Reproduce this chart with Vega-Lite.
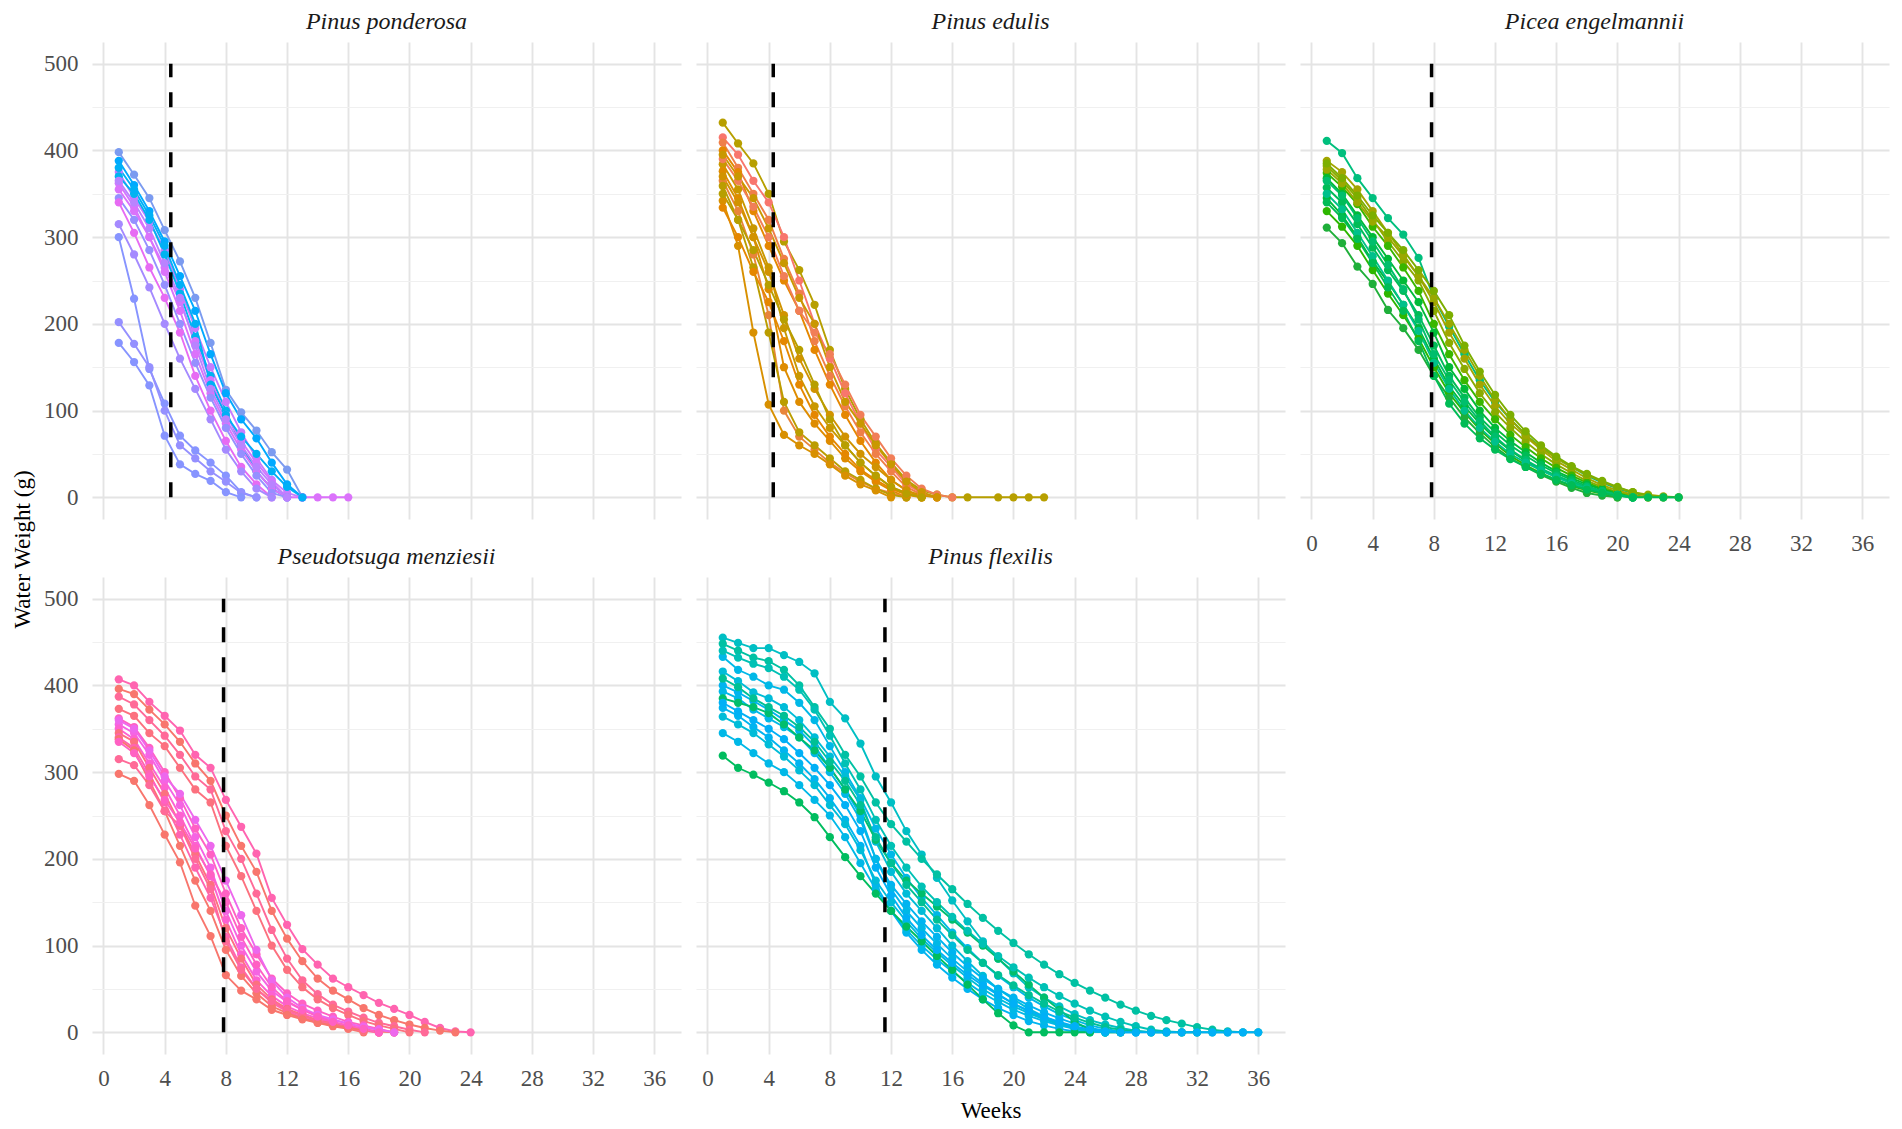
{
  "$schema": "https://vega.github.io/schema/vega-lite/v6.json",
  "background": "white",
  "padding": {"left": 11, "top": 10, "right": 5, "bottom": 5},
  "datasets": {
    "pp": [
      {"i":1,"w":1,"v":398},{"i":1,"w":2,"v":372},{"i":1,"w":3,"v":345},{"i":1,"w":4,"v":308},{"i":1,"w":5,"v":272},{"i":1,"w":6,"v":230},{"i":1,"w":7,"v":178},{"i":1,"w":8,"v":124},{"i":1,"w":9,"v":98},{"i":1,"w":10,"v":77},{"i":1,"w":11,"v":52},{"i":1,"w":12,"v":32},{"i":1,"w":13,"v":0},
      {"i":2,"w":1,"v":388},{"i":2,"w":2,"v":360},{"i":2,"w":3,"v":330},{"i":2,"w":4,"v":295},{"i":2,"w":5,"v":255},{"i":2,"w":6,"v":215},{"i":2,"w":7,"v":165},{"i":2,"w":8,"v":120},{"i":2,"w":9,"v":90},{"i":2,"w":10,"v":68},{"i":2,"w":11,"v":40},{"i":2,"w":12,"v":15},{"i":2,"w":13,"v":0},
      {"i":3,"w":1,"v":375},{"i":3,"w":2,"v":345},{"i":3,"w":3,"v":318},{"i":3,"w":4,"v":285},{"i":3,"w":5,"v":240},{"i":3,"w":6,"v":195},{"i":3,"w":7,"v":150},{"i":3,"w":8,"v":110},{"i":3,"w":9,"v":75},{"i":3,"w":10,"v":45},{"i":3,"w":11,"v":20},{"i":3,"w":12,"v":5},{"i":3,"w":13,"v":0},
      {"i":4,"w":1,"v":370},{"i":4,"w":2,"v":350},{"i":4,"w":3,"v":320},{"i":4,"w":4,"v":280},{"i":4,"w":5,"v":235},{"i":4,"w":6,"v":185},{"i":4,"w":7,"v":140},{"i":4,"w":8,"v":100},{"i":4,"w":9,"v":60},{"i":4,"w":10,"v":30},{"i":4,"w":11,"v":10},{"i":4,"w":12,"v":0},
      {"i":5,"w":1,"v":362},{"i":5,"w":2,"v":335},{"i":5,"w":3,"v":300},{"i":5,"w":4,"v":265},{"i":5,"w":5,"v":225},{"i":5,"w":6,"v":180},{"i":5,"w":7,"v":135},{"i":5,"w":8,"v":95},{"i":5,"w":9,"v":65},{"i":5,"w":10,"v":40},{"i":5,"w":11,"v":18},{"i":5,"w":12,"v":0},
      {"i":6,"w":1,"v":355},{"i":6,"w":2,"v":330},{"i":6,"w":3,"v":300},{"i":6,"w":4,"v":260},{"i":6,"w":5,"v":215},{"i":6,"w":6,"v":165},{"i":6,"w":7,"v":120},{"i":6,"w":8,"v":85},{"i":6,"w":9,"v":55},{"i":6,"w":10,"v":30},{"i":6,"w":11,"v":10},{"i":6,"w":12,"v":0},{"i":6,"w":13,"v":0},{"i":6,"w":14,"v":0},{"i":6,"w":15,"v":0},{"i":6,"w":16,"v":0},
      {"i":7,"w":1,"v":345},{"i":7,"w":2,"v":320},{"i":7,"w":3,"v":285},{"i":7,"w":4,"v":245},{"i":7,"w":5,"v":200},{"i":7,"w":6,"v":155},{"i":7,"w":7,"v":115},{"i":7,"w":8,"v":80},{"i":7,"w":9,"v":50},{"i":7,"w":10,"v":25},{"i":7,"w":11,"v":5},{"i":7,"w":12,"v":0},
      {"i":8,"w":1,"v":340},{"i":8,"w":2,"v":305},{"i":8,"w":3,"v":265},{"i":8,"w":4,"v":230},{"i":8,"w":5,"v":190},{"i":8,"w":6,"v":140},{"i":8,"w":7,"v":100},{"i":8,"w":8,"v":65},{"i":8,"w":9,"v":35},{"i":8,"w":10,"v":15},{"i":8,"w":11,"v":0},
      {"i":9,"w":1,"v":315},{"i":9,"w":2,"v":280},{"i":9,"w":3,"v":242},{"i":9,"w":4,"v":200},{"i":9,"w":5,"v":160},{"i":9,"w":6,"v":125},{"i":9,"w":7,"v":90},{"i":9,"w":8,"v":55},{"i":9,"w":9,"v":30},{"i":9,"w":10,"v":10},{"i":9,"w":11,"v":0},
      {"i":10,"w":1,"v":300},{"i":10,"w":2,"v":229},{"i":10,"w":3,"v":148},{"i":10,"w":4,"v":108},{"i":10,"w":5,"v":71},{"i":10,"w":6,"v":54},{"i":10,"w":7,"v":40},{"i":10,"w":8,"v":25},{"i":10,"w":9,"v":6},{"i":10,"w":10,"v":0},
      {"i":11,"w":1,"v":202},{"i":11,"w":2,"v":177},{"i":11,"w":3,"v":150},{"i":11,"w":4,"v":100},{"i":11,"w":5,"v":60},{"i":11,"w":6,"v":45},{"i":11,"w":7,"v":30},{"i":11,"w":8,"v":18},{"i":11,"w":9,"v":5},{"i":11,"w":10,"v":0},
      {"i":12,"w":1,"v":178},{"i":12,"w":2,"v":156},{"i":12,"w":3,"v":129},{"i":12,"w":4,"v":71},{"i":12,"w":5,"v":38},{"i":12,"w":6,"v":27},{"i":12,"w":7,"v":19},{"i":12,"w":8,"v":6},{"i":12,"w":9,"v":0},
      {"i":13,"w":1,"v":380},{"i":13,"w":2,"v":355},{"i":13,"w":3,"v":325},{"i":13,"w":4,"v":290},{"i":13,"w":5,"v":245},{"i":13,"w":6,"v":200},{"i":13,"w":7,"v":130},{"i":13,"w":8,"v":95},{"i":13,"w":9,"v":70},{"i":13,"w":10,"v":50},{"i":13,"w":11,"v":30},{"i":13,"w":12,"v":12},{"i":13,"w":13,"v":0},
      {"i":14,"w":1,"v":365},{"i":14,"w":2,"v":340},{"i":14,"w":3,"v":310},{"i":14,"w":4,"v":270},{"i":14,"w":5,"v":230},{"i":14,"w":6,"v":175},{"i":14,"w":7,"v":125},{"i":14,"w":8,"v":90},{"i":14,"w":9,"v":60},{"i":14,"w":10,"v":35},{"i":14,"w":11,"v":15},{"i":14,"w":12,"v":0}
    ],
    "pe": [
      {"i":1,"w":1,"v":432},{"i":1,"w":2,"v":408},{"i":1,"w":3,"v":385},{"i":1,"w":4,"v":350},{"i":1,"w":5,"v":295},{"i":1,"w":6,"v":262},{"i":1,"w":7,"v":222},{"i":1,"w":8,"v":170},{"i":1,"w":9,"v":125},{"i":1,"w":10,"v":90},{"i":1,"w":11,"v":62},{"i":1,"w":12,"v":40},{"i":1,"w":13,"v":20},{"i":1,"w":14,"v":8},{"i":1,"w":15,"v":3},{"i":1,"w":16,"v":0},{"i":1,"w":17,"v":0},{"i":1,"w":19,"v":0},{"i":1,"w":20,"v":0},{"i":1,"w":21,"v":0},{"i":1,"w":22,"v":0},
      {"i":2,"w":1,"v":415},{"i":2,"w":2,"v":395},{"i":2,"w":3,"v":365},{"i":2,"w":4,"v":340},{"i":2,"w":5,"v":300},{"i":2,"w":6,"v":250},{"i":2,"w":7,"v":200},{"i":2,"w":8,"v":160},{"i":2,"w":9,"v":120},{"i":2,"w":10,"v":85},{"i":2,"w":11,"v":55},{"i":2,"w":12,"v":35},{"i":2,"w":13,"v":15},{"i":2,"w":14,"v":5},{"i":2,"w":15,"v":0},
      {"i":3,"w":1,"v":409},{"i":3,"w":2,"v":380},{"i":3,"w":3,"v":350},{"i":3,"w":4,"v":320},{"i":3,"w":5,"v":275},{"i":3,"w":6,"v":235},{"i":3,"w":7,"v":180},{"i":3,"w":8,"v":140},{"i":3,"w":9,"v":105},{"i":3,"w":10,"v":75},{"i":3,"w":11,"v":50},{"i":3,"w":12,"v":30},{"i":3,"w":13,"v":12},{"i":3,"w":14,"v":3},{"i":3,"w":15,"v":0},
      {"i":4,"w":1,"v":400},{"i":4,"w":2,"v":375},{"i":4,"w":3,"v":330},{"i":4,"w":4,"v":290},{"i":4,"w":5,"v":250},{"i":4,"w":6,"v":215},{"i":4,"w":7,"v":170},{"i":4,"w":8,"v":130},{"i":4,"w":9,"v":95},{"i":4,"w":10,"v":65},{"i":4,"w":11,"v":40},{"i":4,"w":12,"v":20},{"i":4,"w":13,"v":8},{"i":4,"w":14,"v":0},
      {"i":5,"w":1,"v":384},{"i":5,"w":2,"v":355},{"i":5,"w":3,"v":310},{"i":5,"w":4,"v":265},{"i":5,"w":5,"v":195},{"i":5,"w":6,"v":140},{"i":5,"w":7,"v":105},{"i":5,"w":8,"v":80},{"i":5,"w":9,"v":60},{"i":5,"w":10,"v":40},{"i":5,"w":11,"v":25},{"i":5,"w":12,"v":12},{"i":5,"w":13,"v":5},{"i":5,"w":14,"v":0},
      {"i":6,"w":1,"v":376},{"i":6,"w":2,"v":345},{"i":6,"w":3,"v":300},{"i":6,"w":4,"v":240},{"i":6,"w":5,"v":150},{"i":6,"w":6,"v":110},{"i":6,"w":7,"v":85},{"i":6,"w":8,"v":65},{"i":6,"w":9,"v":45},{"i":6,"w":10,"v":30},{"i":6,"w":11,"v":18},{"i":6,"w":12,"v":8},{"i":6,"w":13,"v":0},
      {"i":7,"w":1,"v":365},{"i":7,"w":2,"v":330},{"i":7,"w":3,"v":280},{"i":7,"w":4,"v":210},{"i":7,"w":5,"v":100},{"i":7,"w":6,"v":70},{"i":7,"w":7,"v":55},{"i":7,"w":8,"v":40},{"i":7,"w":9,"v":28},{"i":7,"w":10,"v":18},{"i":7,"w":11,"v":10},{"i":7,"w":12,"v":5},{"i":7,"w":13,"v":0},
      {"i":8,"w":1,"v":359},{"i":8,"w":2,"v":320},{"i":8,"w":3,"v":265},{"i":8,"w":4,"v":190},{"i":8,"w":5,"v":110},{"i":8,"w":6,"v":75},{"i":8,"w":7,"v":60},{"i":8,"w":8,"v":45},{"i":8,"w":9,"v":30},{"i":8,"w":10,"v":20},{"i":8,"w":11,"v":10},{"i":8,"w":12,"v":3},{"i":8,"w":13,"v":0},
      {"i":9,"w":1,"v":342},{"i":9,"w":2,"v":290},{"i":9,"w":3,"v":190},{"i":9,"w":4,"v":107},{"i":9,"w":5,"v":72},{"i":9,"w":6,"v":60},{"i":9,"w":7,"v":50},{"i":9,"w":8,"v":38},{"i":9,"w":9,"v":25},{"i":9,"w":10,"v":15},{"i":9,"w":11,"v":8},{"i":9,"w":12,"v":0},
      {"i":10,"w":1,"v":334},{"i":10,"w":2,"v":300},{"i":10,"w":3,"v":260},{"i":10,"w":4,"v":225},{"i":10,"w":5,"v":180},{"i":10,"w":6,"v":130},{"i":10,"w":7,"v":95},{"i":10,"w":8,"v":70},{"i":10,"w":9,"v":50},{"i":10,"w":10,"v":32},{"i":10,"w":11,"v":20},{"i":10,"w":12,"v":10},{"i":10,"w":13,"v":3},{"i":10,"w":14,"v":0},
      {"i":11,"w":1,"v":390},{"i":11,"w":2,"v":365},{"i":11,"w":3,"v":335},{"i":11,"w":4,"v":300},{"i":11,"w":5,"v":255},{"i":11,"w":6,"v":215},{"i":11,"w":7,"v":190},{"i":11,"w":8,"v":165},{"i":11,"w":9,"v":130},{"i":11,"w":10,"v":95},{"i":11,"w":11,"v":70},{"i":11,"w":12,"v":45},{"i":11,"w":13,"v":25},{"i":11,"w":14,"v":10},{"i":11,"w":15,"v":3},{"i":11,"w":16,"v":0},
      {"i":12,"w":1,"v":395},{"i":12,"w":2,"v":370},{"i":12,"w":3,"v":345},{"i":12,"w":4,"v":310},{"i":12,"w":5,"v":270},{"i":12,"w":6,"v":230},{"i":12,"w":7,"v":200},{"i":12,"w":8,"v":150},{"i":12,"w":9,"v":110},{"i":12,"w":10,"v":85},{"i":12,"w":11,"v":60},{"i":12,"w":12,"v":38},{"i":12,"w":13,"v":18},{"i":12,"w":14,"v":6},{"i":12,"w":15,"v":0},
      {"i":13,"w":1,"v":370},{"i":13,"w":2,"v":340},{"i":13,"w":3,"v":300},{"i":13,"w":4,"v":260},{"i":13,"w":5,"v":210},{"i":13,"w":6,"v":160},{"i":13,"w":7,"v":125},{"i":13,"w":8,"v":95},{"i":13,"w":9,"v":70},{"i":13,"w":10,"v":50},{"i":13,"w":11,"v":35},{"i":13,"w":12,"v":20},{"i":13,"w":13,"v":8},{"i":13,"w":14,"v":2},{"i":13,"w":15,"v":0},
      {"i":14,"w":1,"v":350},{"i":14,"w":2,"v":320},{"i":14,"w":3,"v":285},{"i":14,"w":4,"v":245},{"i":14,"w":5,"v":205},{"i":14,"w":6,"v":170},{"i":14,"w":7,"v":130},{"i":14,"w":8,"v":90},{"i":14,"w":9,"v":60},{"i":14,"w":10,"v":40},{"i":14,"w":11,"v":25},{"i":14,"w":12,"v":12},{"i":14,"w":13,"v":4},{"i":14,"w":14,"v":0}
    ],
    "pi": [
      {"i":1,"w":1,"v":411},{"i":1,"w":2,"v":397},{"i":1,"w":3,"v":368},{"i":1,"w":4,"v":345},{"i":1,"w":5,"v":322},{"i":1,"w":6,"v":303},{"i":1,"w":7,"v":276},{"i":1,"w":8,"v":230},{"i":1,"w":9,"v":197},{"i":1,"w":10,"v":165},{"i":1,"w":11,"v":135},{"i":1,"w":12,"v":110},{"i":1,"w":13,"v":90},{"i":1,"w":14,"v":72},{"i":1,"w":15,"v":58},{"i":1,"w":16,"v":45},{"i":1,"w":17,"v":35},{"i":1,"w":18,"v":25},{"i":1,"w":19,"v":17},{"i":1,"w":20,"v":10},{"i":1,"w":21,"v":5},{"i":1,"w":22,"v":2},{"i":1,"w":23,"v":0},{"i":1,"w":24,"v":0},
      {"i":2,"w":1,"v":388},{"i":2,"w":2,"v":375},{"i":2,"w":3,"v":355},{"i":2,"w":4,"v":330},{"i":2,"w":5,"v":305},{"i":2,"w":6,"v":280},{"i":2,"w":7,"v":255},{"i":2,"w":8,"v":225},{"i":2,"w":9,"v":190},{"i":2,"w":10,"v":160},{"i":2,"w":11,"v":130},{"i":2,"w":12,"v":105},{"i":2,"w":13,"v":85},{"i":2,"w":14,"v":70},{"i":2,"w":15,"v":55},{"i":2,"w":16,"v":42},{"i":2,"w":17,"v":32},{"i":2,"w":18,"v":22},{"i":2,"w":19,"v":14},{"i":2,"w":20,"v":8},{"i":2,"w":21,"v":3},{"i":2,"w":22,"v":0},
      {"i":3,"w":1,"v":382},{"i":3,"w":2,"v":365},{"i":3,"w":3,"v":345},{"i":3,"w":4,"v":320},{"i":3,"w":5,"v":295},{"i":3,"w":6,"v":272},{"i":3,"w":7,"v":250},{"i":3,"w":8,"v":215},{"i":3,"w":9,"v":178},{"i":3,"w":10,"v":148},{"i":3,"w":11,"v":120},{"i":3,"w":12,"v":98},{"i":3,"w":13,"v":80},{"i":3,"w":14,"v":64},{"i":3,"w":15,"v":50},{"i":3,"w":16,"v":38},{"i":3,"w":17,"v":28},{"i":3,"w":18,"v":19},{"i":3,"w":19,"v":12},{"i":3,"w":20,"v":6},{"i":3,"w":21,"v":2},{"i":3,"w":22,"v":0},
      {"i":4,"w":1,"v":374},{"i":4,"w":2,"v":358},{"i":4,"w":3,"v":338},{"i":4,"w":4,"v":312},{"i":4,"w":5,"v":290},{"i":4,"w":6,"v":265},{"i":4,"w":7,"v":238},{"i":4,"w":8,"v":200},{"i":4,"w":9,"v":165},{"i":4,"w":10,"v":135},{"i":4,"w":11,"v":110},{"i":4,"w":12,"v":90},{"i":4,"w":13,"v":72},{"i":4,"w":14,"v":58},{"i":4,"w":15,"v":45},{"i":4,"w":16,"v":34},{"i":4,"w":17,"v":25},{"i":4,"w":18,"v":17},{"i":4,"w":19,"v":10},{"i":4,"w":20,"v":5},{"i":4,"w":21,"v":0},
      {"i":5,"w":1,"v":368},{"i":5,"w":2,"v":350},{"i":5,"w":3,"v":325},{"i":5,"w":4,"v":300},{"i":5,"w":5,"v":275},{"i":5,"w":6,"v":250},{"i":5,"w":7,"v":225},{"i":5,"w":8,"v":190},{"i":5,"w":9,"v":150},{"i":5,"w":10,"v":125},{"i":5,"w":11,"v":100},{"i":5,"w":12,"v":80},{"i":5,"w":13,"v":65},{"i":5,"w":14,"v":52},{"i":5,"w":15,"v":40},{"i":5,"w":16,"v":30},{"i":5,"w":17,"v":22},{"i":5,"w":18,"v":15},{"i":5,"w":19,"v":9},{"i":5,"w":20,"v":4},{"i":5,"w":21,"v":0},
      {"i":6,"w":1,"v":357},{"i":6,"w":2,"v":340},{"i":6,"w":3,"v":315},{"i":6,"w":4,"v":288},{"i":6,"w":5,"v":262},{"i":6,"w":6,"v":238},{"i":6,"w":7,"v":210},{"i":6,"w":8,"v":175},{"i":6,"w":9,"v":140},{"i":6,"w":10,"v":115},{"i":6,"w":11,"v":92},{"i":6,"w":12,"v":75},{"i":6,"w":13,"v":60},{"i":6,"w":14,"v":48},{"i":6,"w":15,"v":37},{"i":6,"w":16,"v":28},{"i":6,"w":17,"v":20},{"i":6,"w":18,"v":13},{"i":6,"w":19,"v":7},{"i":6,"w":20,"v":3},{"i":6,"w":21,"v":0},
      {"i":7,"w":1,"v":345},{"i":7,"w":2,"v":325},{"i":7,"w":3,"v":300},{"i":7,"w":4,"v":272},{"i":7,"w":5,"v":248},{"i":7,"w":6,"v":222},{"i":7,"w":7,"v":195},{"i":7,"w":8,"v":160},{"i":7,"w":9,"v":128},{"i":7,"w":10,"v":105},{"i":7,"w":11,"v":85},{"i":7,"w":12,"v":68},{"i":7,"w":13,"v":54},{"i":7,"w":14,"v":42},{"i":7,"w":15,"v":32},{"i":7,"w":16,"v":24},{"i":7,"w":17,"v":17},{"i":7,"w":18,"v":11},{"i":7,"w":19,"v":6},{"i":7,"w":20,"v":2},{"i":7,"w":21,"v":0},
      {"i":8,"w":1,"v":330},{"i":8,"w":2,"v":312},{"i":8,"w":3,"v":290},{"i":8,"w":4,"v":262},{"i":8,"w":5,"v":235},{"i":8,"w":6,"v":210},{"i":8,"w":7,"v":183},{"i":8,"w":8,"v":150},{"i":8,"w":9,"v":120},{"i":8,"w":10,"v":98},{"i":8,"w":11,"v":78},{"i":8,"w":12,"v":62},{"i":8,"w":13,"v":48},{"i":8,"w":14,"v":37},{"i":8,"w":15,"v":28},{"i":8,"w":16,"v":20},{"i":8,"w":17,"v":13},{"i":8,"w":18,"v":8},{"i":8,"w":19,"v":4},{"i":8,"w":20,"v":0},
      {"i":9,"w":1,"v":311},{"i":9,"w":2,"v":293},{"i":9,"w":3,"v":266},{"i":9,"w":4,"v":246},{"i":9,"w":5,"v":216},{"i":9,"w":6,"v":195},{"i":9,"w":7,"v":170},{"i":9,"w":8,"v":140},{"i":9,"w":9,"v":115},{"i":9,"w":10,"v":92},{"i":9,"w":11,"v":74},{"i":9,"w":12,"v":58},{"i":9,"w":13,"v":45},{"i":9,"w":14,"v":35},{"i":9,"w":15,"v":26},{"i":9,"w":16,"v":18},{"i":9,"w":17,"v":11},{"i":9,"w":18,"v":5},{"i":9,"w":19,"v":2},{"i":9,"w":20,"v":0},
      {"i":10,"w":1,"v":378},{"i":10,"w":2,"v":362},{"i":10,"w":3,"v":340},{"i":10,"w":4,"v":318},{"i":10,"w":5,"v":300},{"i":10,"w":6,"v":278},{"i":10,"w":7,"v":255},{"i":10,"w":8,"v":230},{"i":10,"w":9,"v":200},{"i":10,"w":10,"v":170},{"i":10,"w":11,"v":140},{"i":10,"w":12,"v":112},{"i":10,"w":13,"v":90},{"i":10,"w":14,"v":72},{"i":10,"w":15,"v":57},{"i":10,"w":16,"v":45},{"i":10,"w":17,"v":35},{"i":10,"w":18,"v":26},{"i":10,"w":19,"v":18},{"i":10,"w":20,"v":11},{"i":10,"w":21,"v":6},{"i":10,"w":22,"v":3},{"i":10,"w":23,"v":1},{"i":10,"w":24,"v":0},
      {"i":11,"w":1,"v":385},{"i":11,"w":2,"v":368},{"i":11,"w":3,"v":348},{"i":11,"w":4,"v":325},{"i":11,"w":5,"v":305},{"i":11,"w":6,"v":285},{"i":11,"w":7,"v":262},{"i":11,"w":8,"v":238},{"i":11,"w":9,"v":210},{"i":11,"w":10,"v":175},{"i":11,"w":11,"v":145},{"i":11,"w":12,"v":118},{"i":11,"w":13,"v":95},{"i":11,"w":14,"v":76},{"i":11,"w":15,"v":60},{"i":11,"w":16,"v":47},{"i":11,"w":17,"v":36},{"i":11,"w":18,"v":27},{"i":11,"w":19,"v":19},{"i":11,"w":20,"v":12},{"i":11,"w":21,"v":6},{"i":11,"w":22,"v":2},{"i":11,"w":23,"v":0},
      {"i":12,"w":1,"v":365},{"i":12,"w":2,"v":348},{"i":12,"w":3,"v":322},{"i":12,"w":4,"v":295},{"i":12,"w":5,"v":268},{"i":12,"w":6,"v":240},{"i":12,"w":7,"v":205},{"i":12,"w":8,"v":165},{"i":12,"w":9,"v":135},{"i":12,"w":10,"v":110},{"i":12,"w":11,"v":88},{"i":12,"w":12,"v":70},{"i":12,"w":13,"v":55},{"i":12,"w":14,"v":43},{"i":12,"w":15,"v":33},{"i":12,"w":16,"v":25},{"i":12,"w":17,"v":18},{"i":12,"w":18,"v":12},{"i":12,"w":19,"v":7},{"i":12,"w":20,"v":3},{"i":12,"w":21,"v":0},
      {"i":13,"w":1,"v":350},{"i":13,"w":2,"v":332},{"i":13,"w":3,"v":305},{"i":13,"w":4,"v":278},{"i":13,"w":5,"v":250},{"i":13,"w":6,"v":222},{"i":13,"w":7,"v":192},{"i":13,"w":8,"v":155},{"i":13,"w":9,"v":125},{"i":13,"w":10,"v":100},{"i":13,"w":11,"v":80},{"i":13,"w":12,"v":64},{"i":13,"w":13,"v":50},{"i":13,"w":14,"v":40},{"i":13,"w":15,"v":31},{"i":13,"w":16,"v":23},{"i":13,"w":17,"v":16},{"i":13,"w":18,"v":10},{"i":13,"w":19,"v":5},{"i":13,"w":20,"v":2},{"i":13,"w":21,"v":0},
      {"i":14,"w":1,"v":340},{"i":14,"w":2,"v":322},{"i":14,"w":3,"v":298},{"i":14,"w":4,"v":270},{"i":14,"w":5,"v":242},{"i":14,"w":6,"v":215},{"i":14,"w":7,"v":180},{"i":14,"w":8,"v":140},{"i":14,"w":9,"v":108},{"i":14,"w":10,"v":85},{"i":14,"w":11,"v":68},{"i":14,"w":12,"v":55},{"i":14,"w":13,"v":44},{"i":14,"w":14,"v":35},{"i":14,"w":15,"v":27},{"i":14,"w":16,"v":20},{"i":14,"w":17,"v":14},{"i":14,"w":18,"v":9},{"i":14,"w":19,"v":5},{"i":14,"w":20,"v":2},{"i":14,"w":21,"v":0},{"i":14,"w":22,"v":0},{"i":14,"w":23,"v":0},{"i":14,"w":24,"v":0}
    ],
    "pm": [
      {"i":1,"w":1,"v":407},{"i":1,"w":2,"v":400},{"i":1,"w":3,"v":381},{"i":1,"w":4,"v":365},{"i":1,"w":5,"v":348},{"i":1,"w":6,"v":320},{"i":1,"w":7,"v":305},{"i":1,"w":8,"v":268},{"i":1,"w":9,"v":237},{"i":1,"w":10,"v":206},{"i":1,"w":11,"v":155},{"i":1,"w":12,"v":124},{"i":1,"w":13,"v":96},{"i":1,"w":14,"v":78},{"i":1,"w":15,"v":62},{"i":1,"w":16,"v":52},{"i":1,"w":17,"v":43},{"i":1,"w":18,"v":34},{"i":1,"w":19,"v":27},{"i":1,"w":20,"v":20},{"i":1,"w":21,"v":12},{"i":1,"w":22,"v":5},{"i":1,"w":23,"v":1},{"i":1,"w":24,"v":0},
      {"i":2,"w":1,"v":396},{"i":2,"w":2,"v":390},{"i":2,"w":3,"v":372},{"i":2,"w":4,"v":355},{"i":2,"w":5,"v":335},{"i":2,"w":6,"v":310},{"i":2,"w":7,"v":290},{"i":2,"w":8,"v":250},{"i":2,"w":9,"v":215},{"i":2,"w":10,"v":185},{"i":2,"w":11,"v":140},{"i":2,"w":12,"v":108},{"i":2,"w":13,"v":82},{"i":2,"w":14,"v":62},{"i":2,"w":15,"v":48},{"i":2,"w":16,"v":38},{"i":2,"w":17,"v":28},{"i":2,"w":18,"v":20},{"i":2,"w":19,"v":14},{"i":2,"w":20,"v":9},{"i":2,"w":21,"v":5},{"i":2,"w":22,"v":2},{"i":2,"w":23,"v":0},
      {"i":3,"w":1,"v":387},{"i":3,"w":2,"v":378},{"i":3,"w":3,"v":360},{"i":3,"w":4,"v":342},{"i":3,"w":5,"v":320},{"i":3,"w":6,"v":295},{"i":3,"w":7,"v":280},{"i":3,"w":8,"v":232},{"i":3,"w":9,"v":200},{"i":3,"w":10,"v":160},{"i":3,"w":11,"v":118},{"i":3,"w":12,"v":85},{"i":3,"w":13,"v":60},{"i":3,"w":14,"v":44},{"i":3,"w":15,"v":32},{"i":3,"w":16,"v":24},{"i":3,"w":17,"v":17},{"i":3,"w":18,"v":11},{"i":3,"w":19,"v":7},{"i":3,"w":20,"v":3},{"i":3,"w":21,"v":0},
      {"i":4,"w":1,"v":373},{"i":4,"w":2,"v":365},{"i":4,"w":3,"v":345},{"i":4,"w":4,"v":330},{"i":4,"w":5,"v":305},{"i":4,"w":6,"v":280},{"i":4,"w":7,"v":265},{"i":4,"w":8,"v":215},{"i":4,"w":9,"v":180},{"i":4,"w":10,"v":140},{"i":4,"w":11,"v":100},{"i":4,"w":12,"v":72},{"i":4,"w":13,"v":52},{"i":4,"w":14,"v":38},{"i":4,"w":15,"v":28},{"i":4,"w":16,"v":20},{"i":4,"w":17,"v":13},{"i":4,"w":18,"v":8},{"i":4,"w":19,"v":4},{"i":4,"w":20,"v":0},
      {"i":5,"w":1,"v":362},{"i":5,"w":2,"v":352},{"i":5,"w":3,"v":328},{"i":5,"w":4,"v":300},{"i":5,"w":5,"v":270},{"i":5,"w":6,"v":235},{"i":5,"w":7,"v":205},{"i":5,"w":8,"v":160},{"i":5,"w":9,"v":120},{"i":5,"w":10,"v":90},{"i":5,"w":11,"v":62},{"i":5,"w":12,"v":45},{"i":5,"w":13,"v":33},{"i":5,"w":14,"v":25},{"i":5,"w":15,"v":18},{"i":5,"w":16,"v":12},{"i":5,"w":17,"v":8},{"i":5,"w":18,"v":4},{"i":5,"w":19,"v":0},
      {"i":6,"w":1,"v":355},{"i":6,"w":2,"v":345},{"i":6,"w":3,"v":320},{"i":6,"w":4,"v":290},{"i":6,"w":5,"v":262},{"i":6,"w":6,"v":225},{"i":6,"w":7,"v":190},{"i":6,"w":8,"v":140},{"i":6,"w":9,"v":100},{"i":6,"w":10,"v":70},{"i":6,"w":11,"v":48},{"i":6,"w":12,"v":35},{"i":6,"w":13,"v":26},{"i":6,"w":14,"v":19},{"i":6,"w":15,"v":14},{"i":6,"w":16,"v":10},{"i":6,"w":17,"v":6},{"i":6,"w":18,"v":3},{"i":6,"w":19,"v":0},
      {"i":7,"w":1,"v":350},{"i":7,"w":2,"v":338},{"i":7,"w":3,"v":310},{"i":7,"w":4,"v":282},{"i":7,"w":5,"v":250},{"i":7,"w":6,"v":215},{"i":7,"w":7,"v":180},{"i":7,"w":8,"v":130},{"i":7,"w":9,"v":90},{"i":7,"w":10,"v":60},{"i":7,"w":11,"v":42},{"i":7,"w":12,"v":30},{"i":7,"w":13,"v":22},{"i":7,"w":14,"v":16},{"i":7,"w":15,"v":11},{"i":7,"w":16,"v":7},{"i":7,"w":17,"v":4},{"i":7,"w":18,"v":0},
      {"i":8,"w":1,"v":345},{"i":8,"w":2,"v":335},{"i":8,"w":3,"v":305},{"i":8,"w":4,"v":275},{"i":8,"w":5,"v":240},{"i":8,"w":6,"v":205},{"i":8,"w":7,"v":170},{"i":8,"w":8,"v":120},{"i":8,"w":9,"v":85},{"i":8,"w":10,"v":55},{"i":8,"w":11,"v":38},{"i":8,"w":12,"v":27},{"i":8,"w":13,"v":20},{"i":8,"w":14,"v":14},{"i":8,"w":15,"v":10},{"i":8,"w":16,"v":6},{"i":8,"w":17,"v":3},{"i":8,"w":18,"v":0},
      {"i":9,"w":1,"v":340},{"i":9,"w":2,"v":328},{"i":9,"w":3,"v":298},{"i":9,"w":4,"v":265},{"i":9,"w":5,"v":228},{"i":9,"w":6,"v":190},{"i":9,"w":7,"v":155},{"i":9,"w":8,"v":110},{"i":9,"w":9,"v":75},{"i":9,"w":10,"v":50},{"i":9,"w":11,"v":34},{"i":9,"w":12,"v":24},{"i":9,"w":13,"v":17},{"i":9,"w":14,"v":12},{"i":9,"w":15,"v":8},{"i":9,"w":16,"v":5},{"i":9,"w":17,"v":2},{"i":9,"w":18,"v":0},
      {"i":10,"w":1,"v":338},{"i":10,"w":2,"v":325},{"i":10,"w":3,"v":290},{"i":10,"w":4,"v":255},{"i":10,"w":5,"v":215},{"i":10,"w":6,"v":175},{"i":10,"w":7,"v":140},{"i":10,"w":8,"v":95},{"i":10,"w":9,"v":65},{"i":10,"w":10,"v":45},{"i":10,"w":11,"v":30},{"i":10,"w":12,"v":22},{"i":10,"w":13,"v":16},{"i":10,"w":14,"v":11},{"i":10,"w":15,"v":7},{"i":10,"w":16,"v":4},{"i":10,"w":17,"v":0},
      {"i":11,"w":1,"v":315},{"i":11,"w":2,"v":308},{"i":11,"w":3,"v":285},{"i":11,"w":4,"v":255},{"i":11,"w":5,"v":238},{"i":11,"w":6,"v":200},{"i":11,"w":7,"v":165},{"i":11,"w":8,"v":105},{"i":11,"w":9,"v":72},{"i":11,"w":10,"v":50},{"i":11,"w":11,"v":36},{"i":11,"w":12,"v":26},{"i":11,"w":13,"v":19},{"i":11,"w":14,"v":13},{"i":11,"w":15,"v":9},{"i":11,"w":16,"v":5},{"i":11,"w":17,"v":2},{"i":11,"w":18,"v":0},
      {"i":12,"w":1,"v":298},{"i":12,"w":2,"v":290},{"i":12,"w":3,"v":262},{"i":12,"w":4,"v":228},{"i":12,"w":5,"v":196},{"i":12,"w":6,"v":146},{"i":12,"w":7,"v":111},{"i":12,"w":8,"v":66},{"i":12,"w":9,"v":48},{"i":12,"w":10,"v":38},{"i":12,"w":11,"v":26},{"i":12,"w":12,"v":20},{"i":12,"w":13,"v":15},{"i":12,"w":14,"v":11},{"i":12,"w":15,"v":8},{"i":12,"w":16,"v":5},{"i":12,"w":17,"v":3},{"i":12,"w":18,"v":1},{"i":12,"w":19,"v":0},
      {"i":13,"w":1,"v":360},{"i":13,"w":2,"v":350},{"i":13,"w":3,"v":325},{"i":13,"w":4,"v":295},{"i":13,"w":5,"v":275},{"i":13,"w":6,"v":245},{"i":13,"w":7,"v":215},{"i":13,"w":8,"v":175},{"i":13,"w":9,"v":135},{"i":13,"w":10,"v":95},{"i":13,"w":11,"v":60},{"i":13,"w":12,"v":40},{"i":13,"w":13,"v":28},{"i":13,"w":14,"v":20},{"i":13,"w":15,"v":15},{"i":13,"w":16,"v":10},{"i":13,"w":17,"v":6},{"i":13,"w":18,"v":3},{"i":13,"w":19,"v":0},
      {"i":14,"w":1,"v":335},{"i":14,"w":2,"v":322},{"i":14,"w":3,"v":295},{"i":14,"w":4,"v":268},{"i":14,"w":5,"v":242},{"i":14,"w":6,"v":212},{"i":14,"w":7,"v":182},{"i":14,"w":8,"v":150},{"i":14,"w":9,"v":110},{"i":14,"w":10,"v":78},{"i":14,"w":11,"v":52},{"i":14,"w":12,"v":36},{"i":14,"w":13,"v":26},{"i":14,"w":14,"v":18},{"i":14,"w":15,"v":12},{"i":14,"w":16,"v":8},{"i":14,"w":17,"v":4},{"i":14,"w":18,"v":0}
    ],
    "pf": [
      {"i":1,"w":1,"v":455},{"i":1,"w":2,"v":449},{"i":1,"w":3,"v":443},{"i":1,"w":4,"v":443},{"i":1,"w":5,"v":435},{"i":1,"w":6,"v":427},{"i":1,"w":7,"v":414},{"i":1,"w":8,"v":381},{"i":1,"w":9,"v":362},{"i":1,"w":10,"v":333},{"i":1,"w":11,"v":295},{"i":1,"w":12,"v":265},{"i":1,"w":13,"v":232},{"i":1,"w":14,"v":205},{"i":1,"w":15,"v":178},{"i":1,"w":16,"v":152},{"i":1,"w":17,"v":128},{"i":1,"w":18,"v":105},{"i":1,"w":19,"v":85},{"i":1,"w":20,"v":68},{"i":1,"w":21,"v":52},{"i":1,"w":22,"v":40},{"i":1,"w":23,"v":30},{"i":1,"w":24,"v":21},{"i":1,"w":25,"v":14},{"i":1,"w":26,"v":9},{"i":1,"w":27,"v":5},{"i":1,"w":28,"v":2},{"i":1,"w":29,"v":0},{"i":1,"w":30,"v":0},
      {"i":2,"w":1,"v":448},{"i":2,"w":2,"v":440},{"i":2,"w":3,"v":432},{"i":2,"w":4,"v":428},{"i":2,"w":5,"v":418},{"i":2,"w":6,"v":400},{"i":2,"w":7,"v":375},{"i":2,"w":8,"v":350},{"i":2,"w":9,"v":320},{"i":2,"w":10,"v":295},{"i":2,"w":11,"v":265},{"i":2,"w":12,"v":240},{"i":2,"w":13,"v":220},{"i":2,"w":14,"v":200},{"i":2,"w":15,"v":182},{"i":2,"w":16,"v":165},{"i":2,"w":17,"v":148},{"i":2,"w":18,"v":132},{"i":2,"w":19,"v":117},{"i":2,"w":20,"v":103},{"i":2,"w":21,"v":90},{"i":2,"w":22,"v":78},{"i":2,"w":23,"v":67},{"i":2,"w":24,"v":57},{"i":2,"w":25,"v":48},{"i":2,"w":26,"v":40},{"i":2,"w":27,"v":32},{"i":2,"w":28,"v":25},{"i":2,"w":29,"v":19},{"i":2,"w":30,"v":14},{"i":2,"w":31,"v":10},{"i":2,"w":32,"v":6},{"i":2,"w":33,"v":3},{"i":2,"w":34,"v":1},{"i":2,"w":35,"v":0},{"i":2,"w":36,"v":0},
      {"i":3,"w":1,"v":433},{"i":3,"w":2,"v":418},{"i":3,"w":3,"v":410},{"i":3,"w":4,"v":400},{"i":3,"w":5,"v":395},{"i":3,"w":6,"v":380},{"i":3,"w":7,"v":360},{"i":3,"w":8,"v":330},{"i":3,"w":9,"v":300},{"i":3,"w":10,"v":270},{"i":3,"w":11,"v":235},{"i":3,"w":12,"v":205},{"i":3,"w":13,"v":178},{"i":3,"w":14,"v":155},{"i":3,"w":15,"v":135},{"i":3,"w":16,"v":115},{"i":3,"w":17,"v":97},{"i":3,"w":18,"v":80},{"i":3,"w":19,"v":65},{"i":3,"w":20,"v":52},{"i":3,"w":21,"v":40},{"i":3,"w":22,"v":30},{"i":3,"w":23,"v":21},{"i":3,"w":24,"v":14},{"i":3,"w":25,"v":8},{"i":3,"w":26,"v":4},{"i":3,"w":27,"v":1},{"i":3,"w":28,"v":0},
      {"i":4,"w":1,"v":416},{"i":4,"w":2,"v":405},{"i":4,"w":3,"v":392},{"i":4,"w":4,"v":385},{"i":4,"w":5,"v":375},{"i":4,"w":6,"v":360},{"i":4,"w":7,"v":340},{"i":4,"w":8,"v":318},{"i":4,"w":9,"v":295},{"i":4,"w":10,"v":268},{"i":4,"w":11,"v":220},{"i":4,"w":12,"v":185},{"i":4,"w":13,"v":160},{"i":4,"w":14,"v":140},{"i":4,"w":15,"v":120},{"i":4,"w":16,"v":100},{"i":4,"w":17,"v":82},{"i":4,"w":18,"v":65},{"i":4,"w":19,"v":50},{"i":4,"w":20,"v":38},{"i":4,"w":21,"v":27},{"i":4,"w":22,"v":18},{"i":4,"w":23,"v":11},{"i":4,"w":24,"v":6},{"i":4,"w":25,"v":2},{"i":4,"w":26,"v":0},{"i":4,"w":27,"v":0},
      {"i":5,"w":1,"v":400},{"i":5,"w":2,"v":392},{"i":5,"w":3,"v":382},{"i":5,"w":4,"v":372},{"i":5,"w":5,"v":360},{"i":5,"w":6,"v":348},{"i":5,"w":7,"v":330},{"i":5,"w":8,"v":305},{"i":5,"w":9,"v":280},{"i":5,"w":10,"v":250},{"i":5,"w":11,"v":200},{"i":5,"w":12,"v":170},{"i":5,"w":13,"v":148},{"i":5,"w":14,"v":128},{"i":5,"w":15,"v":110},{"i":5,"w":16,"v":92},{"i":5,"w":17,"v":76},{"i":5,"w":18,"v":62},{"i":5,"w":19,"v":50},{"i":5,"w":20,"v":40},{"i":5,"w":21,"v":31},{"i":5,"w":22,"v":23},{"i":5,"w":23,"v":16},{"i":5,"w":24,"v":10},{"i":5,"w":25,"v":5},{"i":5,"w":26,"v":2},{"i":5,"w":27,"v":0},{"i":5,"w":28,"v":0},
      {"i":6,"w":1,"v":393},{"i":6,"w":2,"v":385},{"i":6,"w":3,"v":372},{"i":6,"w":4,"v":362},{"i":6,"w":5,"v":352},{"i":6,"w":6,"v":340},{"i":6,"w":7,"v":322},{"i":6,"w":8,"v":300},{"i":6,"w":9,"v":275},{"i":6,"w":10,"v":245},{"i":6,"w":11,"v":200},{"i":6,"w":12,"v":165},{"i":6,"w":13,"v":140},{"i":6,"w":14,"v":120},{"i":6,"w":15,"v":102},{"i":6,"w":16,"v":85},{"i":6,"w":17,"v":70},{"i":6,"w":18,"v":56},{"i":6,"w":19,"v":44},{"i":6,"w":20,"v":33},{"i":6,"w":21,"v":24},{"i":6,"w":22,"v":16},{"i":6,"w":23,"v":10},{"i":6,"w":24,"v":5},{"i":6,"w":25,"v":2},{"i":6,"w":26,"v":0},
      {"i":7,"w":1,"v":385},{"i":7,"w":2,"v":380},{"i":7,"w":3,"v":375},{"i":7,"w":4,"v":368},{"i":7,"w":5,"v":355},{"i":7,"w":6,"v":340},{"i":7,"w":7,"v":325},{"i":7,"w":8,"v":305},{"i":7,"w":9,"v":280},{"i":7,"w":10,"v":255},{"i":7,"w":11,"v":222},{"i":7,"w":12,"v":195},{"i":7,"w":13,"v":175},{"i":7,"w":14,"v":160},{"i":7,"w":15,"v":145},{"i":7,"w":16,"v":130},{"i":7,"w":17,"v":115},{"i":7,"w":18,"v":100},{"i":7,"w":19,"v":85},{"i":7,"w":20,"v":70},{"i":7,"w":21,"v":55},{"i":7,"w":22,"v":40},{"i":7,"w":23,"v":26},{"i":7,"w":24,"v":12},{"i":7,"w":25,"v":3},{"i":7,"w":26,"v":0},{"i":7,"w":27,"v":0},
      {"i":8,"w":1,"v":374},{"i":8,"w":2,"v":365},{"i":8,"w":3,"v":352},{"i":8,"w":4,"v":340},{"i":8,"w":5,"v":325},{"i":8,"w":6,"v":310},{"i":8,"w":7,"v":292},{"i":8,"w":8,"v":270},{"i":8,"w":9,"v":245},{"i":8,"w":10,"v":215},{"i":8,"w":11,"v":170},{"i":8,"w":12,"v":140},{"i":8,"w":13,"v":115},{"i":8,"w":14,"v":95},{"i":8,"w":15,"v":78},{"i":8,"w":16,"v":63},{"i":8,"w":17,"v":50},{"i":8,"w":18,"v":38},{"i":8,"w":19,"v":28},{"i":8,"w":20,"v":20},{"i":8,"w":21,"v":13},{"i":8,"w":22,"v":8},{"i":8,"w":23,"v":4},{"i":8,"w":24,"v":1},{"i":8,"w":25,"v":0},
      {"i":9,"w":1,"v":364},{"i":9,"w":2,"v":355},{"i":9,"w":3,"v":345},{"i":9,"w":4,"v":332},{"i":9,"w":5,"v":318},{"i":9,"w":6,"v":302},{"i":9,"w":7,"v":285},{"i":9,"w":8,"v":262},{"i":9,"w":9,"v":240},{"i":9,"w":10,"v":210},{"i":9,"w":11,"v":175},{"i":9,"w":12,"v":150},{"i":9,"w":13,"v":128},{"i":9,"w":14,"v":108},{"i":9,"w":15,"v":92},{"i":9,"w":16,"v":77},{"i":9,"w":17,"v":63},{"i":9,"w":18,"v":50},{"i":9,"w":19,"v":39},{"i":9,"w":20,"v":30},{"i":9,"w":21,"v":22},{"i":9,"w":22,"v":15},{"i":9,"w":23,"v":9},{"i":9,"w":24,"v":4},{"i":9,"w":25,"v":1},{"i":9,"w":26,"v":0},
      {"i":10,"w":1,"v":345},{"i":10,"w":2,"v":335},{"i":10,"w":3,"v":322},{"i":10,"w":4,"v":310},{"i":10,"w":5,"v":300},{"i":10,"w":6,"v":285},{"i":10,"w":7,"v":268},{"i":10,"w":8,"v":250},{"i":10,"w":9,"v":225},{"i":10,"w":10,"v":195},{"i":10,"w":11,"v":165},{"i":10,"w":12,"v":140},{"i":10,"w":13,"v":118},{"i":10,"w":14,"v":100},{"i":10,"w":15,"v":84},{"i":10,"w":16,"v":70},{"i":10,"w":17,"v":57},{"i":10,"w":18,"v":45},{"i":10,"w":19,"v":35},{"i":10,"w":20,"v":26},{"i":10,"w":21,"v":19},{"i":10,"w":22,"v":13},{"i":10,"w":23,"v":8},{"i":10,"w":24,"v":4},{"i":10,"w":25,"v":1},{"i":10,"w":26,"v":0},
      {"i":11,"w":1,"v":319},{"i":11,"w":2,"v":305},{"i":11,"w":3,"v":297},{"i":11,"w":4,"v":288},{"i":11,"w":5,"v":278},{"i":11,"w":6,"v":265},{"i":11,"w":7,"v":248},{"i":11,"w":8,"v":225},{"i":11,"w":9,"v":202},{"i":11,"w":10,"v":180},{"i":11,"w":11,"v":160},{"i":11,"w":12,"v":140},{"i":11,"w":13,"v":122},{"i":11,"w":14,"v":105},{"i":11,"w":15,"v":88},{"i":11,"w":16,"v":72},{"i":11,"w":17,"v":55},{"i":11,"w":18,"v":38},{"i":11,"w":19,"v":22},{"i":11,"w":20,"v":8},{"i":11,"w":21,"v":0},{"i":11,"w":22,"v":0},{"i":11,"w":23,"v":0},{"i":11,"w":24,"v":0},{"i":11,"w":25,"v":0},
      {"i":12,"w":1,"v":440},{"i":12,"w":2,"v":432},{"i":12,"w":3,"v":425},{"i":12,"w":4,"v":420},{"i":12,"w":5,"v":410},{"i":12,"w":6,"v":395},{"i":12,"w":7,"v":372},{"i":12,"w":8,"v":342},{"i":12,"w":9,"v":310},{"i":12,"w":10,"v":280},{"i":12,"w":11,"v":245},{"i":12,"w":12,"v":215},{"i":12,"w":13,"v":190},{"i":12,"w":14,"v":168},{"i":12,"w":15,"v":150},{"i":12,"w":16,"v":133},{"i":12,"w":17,"v":117},{"i":12,"w":18,"v":102},{"i":12,"w":19,"v":88},{"i":12,"w":20,"v":75},{"i":12,"w":21,"v":63},{"i":12,"w":22,"v":52},{"i":12,"w":23,"v":42},{"i":12,"w":24,"v":33},{"i":12,"w":25,"v":25},{"i":12,"w":26,"v":18},{"i":12,"w":27,"v":12},{"i":12,"w":28,"v":7},{"i":12,"w":29,"v":3},{"i":12,"w":30,"v":1},{"i":12,"w":31,"v":0},{"i":12,"w":32,"v":0},{"i":12,"w":33,"v":0},{"i":12,"w":34,"v":0},
      {"i":13,"w":1,"v":408},{"i":13,"w":2,"v":398},{"i":13,"w":3,"v":385},{"i":13,"w":4,"v":375},{"i":13,"w":5,"v":365},{"i":13,"w":6,"v":352},{"i":13,"w":7,"v":335},{"i":13,"w":8,"v":312},{"i":13,"w":9,"v":290},{"i":13,"w":10,"v":262},{"i":13,"w":11,"v":225},{"i":13,"w":12,"v":195},{"i":13,"w":13,"v":170},{"i":13,"w":14,"v":150},{"i":13,"w":15,"v":130},{"i":13,"w":16,"v":112},{"i":13,"w":17,"v":95},{"i":13,"w":18,"v":80},{"i":13,"w":19,"v":66},{"i":13,"w":20,"v":54},{"i":13,"w":21,"v":43},{"i":13,"w":22,"v":33},{"i":13,"w":23,"v":24},{"i":13,"w":24,"v":17},{"i":13,"w":25,"v":11},{"i":13,"w":26,"v":6},{"i":13,"w":27,"v":3},{"i":13,"w":28,"v":1},{"i":13,"w":29,"v":0},{"i":13,"w":30,"v":0},{"i":13,"w":31,"v":0},{"i":13,"w":32,"v":0},
      {"i":14,"w":1,"v":380},{"i":14,"w":2,"v":370},{"i":14,"w":3,"v":360},{"i":14,"w":4,"v":350},{"i":14,"w":5,"v":338},{"i":14,"w":6,"v":322},{"i":14,"w":7,"v":305},{"i":14,"w":8,"v":285},{"i":14,"w":9,"v":262},{"i":14,"w":10,"v":232},{"i":14,"w":11,"v":190},{"i":14,"w":12,"v":158},{"i":14,"w":13,"v":132},{"i":14,"w":14,"v":112},{"i":14,"w":15,"v":95},{"i":14,"w":16,"v":80},{"i":14,"w":17,"v":66},{"i":14,"w":18,"v":54},{"i":14,"w":19,"v":43},{"i":14,"w":20,"v":33},{"i":14,"w":21,"v":25},{"i":14,"w":22,"v":18},{"i":14,"w":23,"v":12},{"i":14,"w":24,"v":7},{"i":14,"w":25,"v":3},{"i":14,"w":26,"v":1},{"i":14,"w":27,"v":0},{"i":14,"w":28,"v":0},{"i":14,"w":29,"v":0},{"i":14,"w":30,"v":0},{"i":14,"w":31,"v":0},{"i":14,"w":32,"v":0},{"i":14,"w":33,"v":0},{"i":14,"w":34,"v":0},{"i":14,"w":35,"v":0},{"i":14,"w":36,"v":0}
    ],
    "cuts": [
      {"p":"pp","w":4.4},{"p":"pe","w":4.3},{"p":"pi","w":7.85},{"p":"pm","w":7.85},{"p":"pf","w":11.6}
    ]
  },
  "columns": 3,
  "bounds": "flush",
  "spacing": {"row": 58, "column": 15},
  "concat": [
    {
      "title": "Pinus ponderosa",
      "width": 589, "height": 477,
      "layer": [
        {"data": {"name": "pp"}, "mark": {"type": "line", "strokeWidth": 1.9},
         "encoding": {
           "x": {"field": "w", "type": "quantitative", "scale": {"domain": [-0.75, 37.75], "nice": false, "zero": false},
                 "axis": {"labels": false, "title": null, "values": [0,2,4,6,8,10,12,14,16,18,20,22,24,26,28,30,32,34,36], "gridColor": {"condition": {"test": "datum.value % 4 === 0", "value": "#e4e4e4"}, "value": "#f0f0f0"}, "gridWidth": {"condition": {"test": "datum.value % 4 === 0", "value": 1.9}, "value": 1.1}}},
           "y": {"field": "v", "type": "quantitative", "scale": {"domain": [-25, 525], "nice": false, "zero": false},
                 "axis": {"title": "Water Weight (g)", "titleX": -70, "titleY": 507, "titleBaseline": "middle", "titleAlign": "center", "labelPadding": 14, "values": [0,50,100,150,200,250,300,350,400,450,500], "labelExpr": "datum.value % 100 === 0 ? datum.label : ''", "labelOverlap": false, "gridColor": {"condition": {"test": "datum.value % 100 === 0", "value": "#e4e4e4"}, "value": "#f0f0f0"}, "gridWidth": {"condition": {"test": "datum.value % 100 === 0", "value": 1.9}, "value": 1.1}}},
           "color": {"field": "i", "type": "nominal", "legend": null, "scale": {"domain": [1,2,3,4,5,6,7,8,9,10,11,12,13,14], "range": ["#7B9BF0","#00A9FF","#C77CFF","#00B4F0","#D376FF","#DB72FB","#9590FF","#E76BF3","#A58AFF","#8794FF","#9590FF","#8794FF","#00B0F6","#B983FF"]}}
         }},
        {"data": {"name": "pp"}, "mark": {"type": "circle", "size": 68, "opacity": 1},
         "encoding": {"x": {"field": "w", "type": "quantitative"}, "y": {"field": "v", "type": "quantitative"}, "color": {"field": "i", "type": "nominal", "legend": null}}},
        {"data": {"name": "cuts"}, "transform": [{"filter": "datum.p === 'pp'"}], "mark": {"type": "rule", "color": "black", "strokeWidth": 3.5, "strokeDash": [15, 15]},
         "encoding": {"x": {"field": "w", "type": "quantitative"}, "y": {"datum": 0}, "y2": {"datum": 500}}}
      ]
    },
    {
      "title": "Pinus edulis",
      "width": 589, "height": 477,
      "layer": [
        {"data": {"name": "pe"}, "mark": {"type": "line", "strokeWidth": 1.9},
         "encoding": {
           "x": {"field": "w", "type": "quantitative", "scale": {"domain": [-0.75, 37.75], "nice": false, "zero": false},
                 "axis": {"labels": false, "title": null, "values": [0,2,4,6,8,10,12,14,16,18,20,22,24,26,28,30,32,34,36], "gridColor": {"condition": {"test": "datum.value % 4 === 0", "value": "#e4e4e4"}, "value": "#f0f0f0"}, "gridWidth": {"condition": {"test": "datum.value % 4 === 0", "value": 1.9}, "value": 1.1}}},
           "y": {"field": "v", "type": "quantitative", "scale": {"domain": [-25, 525], "nice": false, "zero": false},
                 "axis": {"labels": false, "title": null, "values": [0,50,100,150,200,250,300,350,400,450,500], "gridColor": {"condition": {"test": "datum.value % 100 === 0", "value": "#e4e4e4"}, "value": "#f0f0f0"}, "gridWidth": {"condition": {"test": "datum.value % 100 === 0", "value": 1.9}, "value": 1.1}}},
           "color": {"field": "i", "type": "nominal", "legend": null, "scale": {"domain": [1,2,3,4,5,6,7,8,9,10,11,12,13,14], "range": ["#B79F00","#F8766D","#EF7F49","#E58700","#C99800","#DE8C00","#E8853A","#BB9D00","#D89000","#E58700","#F17E58","#C99800","#D19300","#B79F00"]}}
         }},
        {"data": {"name": "pe"}, "mark": {"type": "circle", "size": 68, "opacity": 1},
         "encoding": {"x": {"field": "w", "type": "quantitative"}, "y": {"field": "v", "type": "quantitative"}, "color": {"field": "i", "type": "nominal", "legend": null}}},
        {"data": {"name": "cuts"}, "transform": [{"filter": "datum.p === 'pe'"}], "mark": {"type": "rule", "color": "black", "strokeWidth": 3.5, "strokeDash": [15, 15]},
         "encoding": {"x": {"field": "w", "type": "quantitative"}, "y": {"datum": 0}, "y2": {"datum": 500}}}
      ]
    },
    {
      "title": "Picea engelmannii",
      "width": 589, "height": 477,
      "layer": [
        {"data": {"name": "pi"}, "mark": {"type": "line", "strokeWidth": 1.9},
         "encoding": {
           "x": {"field": "w", "type": "quantitative", "scale": {"domain": [-0.75, 37.75], "nice": false, "zero": false},
                 "axis": {"title": null, "labelPadding": 13, "values": [0,2,4,6,8,10,12,14,16,18,20,22,24,26,28,30,32,34,36], "labelExpr": "datum.value % 4 === 0 ? datum.label : ''", "labelOverlap": false, "gridColor": {"condition": {"test": "datum.value % 4 === 0", "value": "#e4e4e4"}, "value": "#f0f0f0"}, "gridWidth": {"condition": {"test": "datum.value % 4 === 0", "value": 1.9}, "value": 1.1}}},
           "y": {"field": "v", "type": "quantitative", "scale": {"domain": [-25, 525], "nice": false, "zero": false},
                 "axis": {"labels": false, "title": null, "values": [0,50,100,150,200,250,300,350,400,450,500], "gridColor": {"condition": {"test": "datum.value % 100 === 0", "value": "#e4e4e4"}, "value": "#f0f0f0"}, "gridWidth": {"condition": {"test": "datum.value % 100 === 0", "value": 1.9}, "value": 1.1}}},
           "color": {"field": "i", "type": "nominal", "legend": null, "scale": {"domain": [1,2,3,4,5,6,7,8,9,10,11,12,13,14], "range": ["#00BF7D","#A3A500","#8AAB00","#39B600","#00BA38","#00BC56","#00BA38","#2DB600","#1FAF3A","#9AA800","#7CAE00","#00BE6C","#00C08B","#00BC56"]}}
         }},
        {"data": {"name": "pi"}, "mark": {"type": "circle", "size": 68, "opacity": 1},
         "encoding": {"x": {"field": "w", "type": "quantitative"}, "y": {"field": "v", "type": "quantitative"}, "color": {"field": "i", "type": "nominal", "legend": null}}},
        {"data": {"name": "cuts"}, "transform": [{"filter": "datum.p === 'pi'"}], "mark": {"type": "rule", "color": "black", "strokeWidth": 3.5, "strokeDash": [15, 15]},
         "encoding": {"x": {"field": "w", "type": "quantitative"}, "y": {"datum": 0}, "y2": {"datum": 500}}}
      ]
    },
    {
      "title": "Pseudotsuga menziesii",
      "width": 589, "height": 477,
      "layer": [
        {"data": {"name": "pm"}, "mark": {"type": "line", "strokeWidth": 1.9},
         "encoding": {
           "x": {"field": "w", "type": "quantitative", "scale": {"domain": [-0.75, 37.75], "nice": false, "zero": false},
                 "axis": {"title": null, "labelPadding": 13, "values": [0,2,4,6,8,10,12,14,16,18,20,22,24,26,28,30,32,34,36], "labelExpr": "datum.value % 4 === 0 ? datum.label : ''", "labelOverlap": false, "gridColor": {"condition": {"test": "datum.value % 4 === 0", "value": "#e4e4e4"}, "value": "#f0f0f0"}, "gridWidth": {"condition": {"test": "datum.value % 4 === 0", "value": 1.9}, "value": 1.1}}},
           "y": {"field": "v", "type": "quantitative", "scale": {"domain": [-25, 525], "nice": false, "zero": false},
                 "axis": {"title": null, "labelPadding": 14, "values": [0,50,100,150,200,250,300,350,400,450,500], "labelExpr": "datum.value % 100 === 0 ? datum.label : ''", "labelOverlap": false, "gridColor": {"condition": {"test": "datum.value % 100 === 0", "value": "#e4e4e4"}, "value": "#f0f0f0"}, "gridWidth": {"condition": {"test": "datum.value % 100 === 0", "value": 1.9}, "value": 1.1}}},
           "color": {"field": "i", "type": "nominal", "legend": null, "scale": {"domain": [1,2,3,4,5,6,7,8,9,10,11,12,13,14], "range": ["#FF64B0","#F8766D","#FF6A98","#FC717F","#FF61C3","#F564E3","#FD61D1","#FC717F","#FF64B0","#F8766D","#FF6A98","#F8766D","#ED68ED","#FF61C3"]}}
         }},
        {"data": {"name": "pm"}, "mark": {"type": "circle", "size": 68, "opacity": 1},
         "encoding": {"x": {"field": "w", "type": "quantitative"}, "y": {"field": "v", "type": "quantitative"}, "color": {"field": "i", "type": "nominal", "legend": null}}},
        {"data": {"name": "cuts"}, "transform": [{"filter": "datum.p === 'pm'"}], "mark": {"type": "rule", "color": "black", "strokeWidth": 3.5, "strokeDash": [15, 15]},
         "encoding": {"x": {"field": "w", "type": "quantitative"}, "y": {"datum": 0}, "y2": {"datum": 500}}}
      ]
    },
    {
      "title": "Pinus flexilis",
      "width": 589, "height": 477,
      "layer": [
        {"data": {"name": "pf"}, "mark": {"type": "line", "strokeWidth": 1.9},
         "encoding": {
           "x": {"field": "w", "type": "quantitative", "scale": {"domain": [-0.75, 37.75], "nice": false, "zero": false},
                 "axis": {"title": "Weeks", "titlePadding": 9, "labelPadding": 13, "values": [0,2,4,6,8,10,12,14,16,18,20,22,24,26,28,30,32,34,36], "labelExpr": "datum.value % 4 === 0 ? datum.label : ''", "labelOverlap": false, "gridColor": {"condition": {"test": "datum.value % 4 === 0", "value": "#e4e4e4"}, "value": "#f0f0f0"}, "gridWidth": {"condition": {"test": "datum.value % 4 === 0", "value": 1.9}, "value": 1.1}}},
           "y": {"field": "v", "type": "quantitative", "scale": {"domain": [-25, 525], "nice": false, "zero": false},
                 "axis": {"labels": false, "title": null, "values": [0,50,100,150,200,250,300,350,400,450,500], "gridColor": {"condition": {"test": "datum.value % 100 === 0", "value": "#e4e4e4"}, "value": "#f0f0f0"}, "gridWidth": {"condition": {"test": "datum.value % 100 === 0", "value": 1.9}, "value": 1.1}}},
           "color": {"field": "i", "type": "nominal", "legend": null, "scale": {"domain": [1,2,3,4,5,6,7,8,9,10,11,12,13,14], "range": ["#00BFC4","#00C1A3","#00B8E7","#00BCD8","#00B4F0","#00B8E7","#00BE6C","#00B4F0","#00BCD8","#00B8E7","#00BD5F","#00C1B5","#00C094","#00B0F6"]}}
         }},
        {"data": {"name": "pf"}, "mark": {"type": "circle", "size": 68, "opacity": 1},
         "encoding": {"x": {"field": "w", "type": "quantitative"}, "y": {"field": "v", "type": "quantitative"}, "color": {"field": "i", "type": "nominal", "legend": null}}},
        {"data": {"name": "cuts"}, "transform": [{"filter": "datum.p === 'pf'"}], "mark": {"type": "rule", "color": "black", "strokeWidth": 3.5, "strokeDash": [15, 15]},
         "encoding": {"x": {"field": "w", "type": "quantitative"}, "y": {"datum": 0}, "y2": {"datum": 500}}}
      ]
    }
  ],
  "resolve": {"scale": {"color": "independent"}},
  "config": {
    "view": {"stroke": null},
    "axis": {"domain": false, "ticks": false, "labelFont": "Liberation Serif", "labelFontSize": 23, "labelColor": "#4d4d4d", "titleFont": "Liberation Serif", "titleFontSize": 23, "titleFontWeight": "normal", "titleColor": "#000000"},
    "title": {"font": "Liberation Serif", "fontSize": 24, "fontStyle": "italic", "fontWeight": "normal", "color": "#1a1a1a", "offset": 8, "anchor": "middle"}
  }
}
